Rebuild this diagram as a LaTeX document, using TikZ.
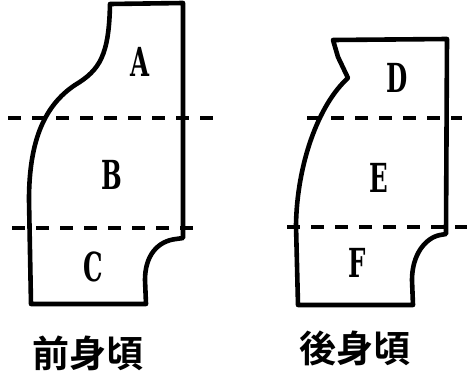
\documentclass[tikz,border=0pt]{standalone}
\usepackage{fontspec}
\newfontfamily\labfont{DejaVu Serif Condensed}
\newfontfamily\cjk[BoldFont={Noto Sans CJK JP Bold}]{Noto Sans CJK JP}
\usepackage{tikz}

\begin{document}
\begin{tikzpicture}[x=1pt,y=-1pt,
    outline/.style={line width=4.6pt,line join=round,line cap=round},
    cutline/.style={line width=3.8pt,dash pattern=on 13pt off 11pt},
    partlabel/.style={font=\labfont\bfseries\fontsize{40}{44}\selectfont,xscale=0.68,inner sep=0pt},
    caption/.style={font=\cjk\bfseries\fontsize{37}{40}\selectfont,inner sep=0pt}]
    \useasboundingbox (0,0) rectangle (467,378);
    % front piece
    \draw[outline] (110,4) -- (183,3) -- (183,238) -- (176,239)
        .. controls (158,241) and (145,255) .. (145,280) -- (146,304)
        -- (31,304) -- (29,200) .. controls (29,140) and (45,105) .. (75,85)
        .. controls (100,70) and (109,55) .. cycle;
    \draw[cutline] (8,118) -- (220,118);
    \draw[cutline] (12,228) -- (202,228);
    \node[partlabel] (partA) at (140,62) {A};
    \node[partlabel] (partB) at (112,175) {B};
    \node[partlabel] (partC) at (93,267) {C};
    % back piece
    \draw[outline] (333,40) -- (447,39) -- (446,234) -- (440,235)
        .. controls (425,238) and (412,255) .. (412,280) -- (413,305)
        -- (298,305) -- (296,225) .. controls (297,165) and (318,105) .. (348,78)
        -- (338,57) -- cycle;
    \draw[cutline] (307,118) -- (462,118);
    \draw[cutline] (287,227) -- (467,227);
    \node[partlabel] (partD) at (397,78) {D};
    \node[partlabel] (partE) at (379,178) {E};
    \node[partlabel] (partF) at (357,263) {F};
    % captions
    \node[caption] (front) at (88,353) {前身頃};
    \node[caption] (back) at (355,348) {後身頃};
\end{tikzpicture}
\end{document}
